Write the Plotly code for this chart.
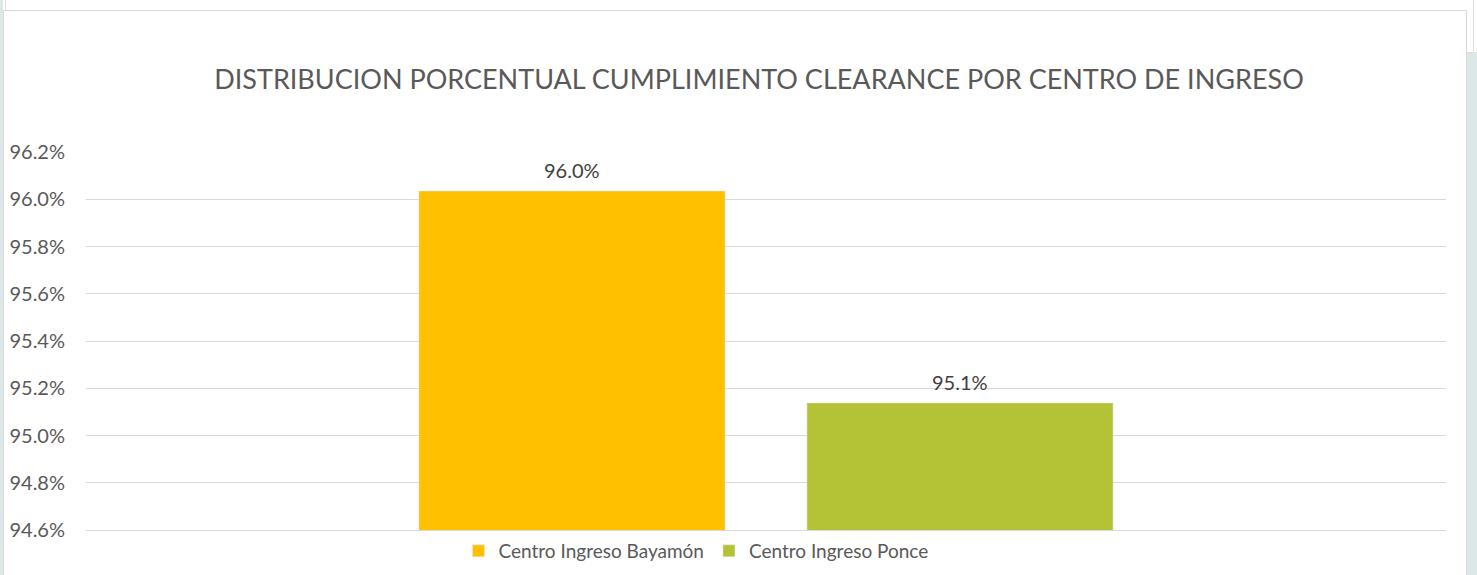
import plotly.graph_objects as go

title = "DISTRIBUCION PORCENTUAL CUMPLIMIENTO CLEARANCE POR CENTRO DE INGRESO"
series_names = ["Centro Ingreso Bayamón", "Centro Ingreso Ponce"]
series_values = [0.96035, 0.95138]
series_labels = ["96.0%", "95.1%"]
series_colors = ["#FFC000", "#B4C236"]
category = [""]
tick_vals = [0.946, 0.948, 0.950, 0.952, 0.954, 0.956, 0.958, 0.960, 0.962]
tick_text = ["94.6%", "94.8%", "95.0%", "95.2%", "95.4%", "95.6%", "95.8%", "96.0%", "96.2%"]

W, H = 1477, 575
L, R, T, B = 86, 1446, 152, 530

fig = go.Figure()
for name, v, col in zip(series_names, series_values, series_colors):
    fig.add_trace(go.Bar(
        x=category, y=[v], name=name, marker_color=col, hoverinfo="skip",
    ))

def px(x):
    return (x - L) / (R - L)

def py(y):
    return (B - y) / (B - T)

# bar value labels, positioned at each bar's data value
slot = 0.5 * (1 - 0.4294)
offsets = [-slot / 2, slot / 2]
annotations = []
for v, lab, off in zip(series_values, series_labels, offsets):
    annotations.append(dict(
        x=off, y=v, xref="x", yref="y", text=lab, showarrow=False,
        yanchor="middle", xanchor="center", yshift=21,
        font=dict(size=20, color="#404040", family="Lato"),
    ))

shapes = []
# left bluish strip
shapes.append(dict(type="rect", xref="paper", yref="paper", x0=px(0), x1=px(3), y0=py(580), y1=py(-5),
                   fillcolor="#DCE7E8", line=dict(width=0), layer="below"))
# right bluish area
shapes.append(dict(type="rect", xref="paper", yref="paper", x0=px(1467), x1=px(1480), y0=py(580), y1=py(52),
                   fillcolor="#DCE7E8", line=dict(width=0), layer="below"))
# box behind the card
shapes.append(dict(type="rect", xref="paper", yref="paper", x0=px(5.5), x1=px(1473.5), y0=py(52.5), y1=py(-5),
                   fillcolor="white", line=dict(width=1, color="#DDDDDD"), layer="below"))
# card
shapes.append(dict(type="rect", xref="paper", yref="paper", x0=px(3.5), x1=px(1466.5), y0=py(590), y1=py(10.5),
                   fillcolor="white", line=dict(width=1, color="#D9D9D9"), layer="below"))

fig.update_layout(
    width=W, height=H,
    margin=dict(l=L, r=W - R, t=T, b=H - B, autoexpand=False),
    paper_bgcolor="white", plot_bgcolor="rgba(0,0,0,0)",
    title=dict(text=title, x=759 / W, xanchor="center", y=1 - 80 / H, yanchor="middle",
               font=dict(size=27, color="#595959", family="Lato")),
    barmode="group", bargap=0.4294, bargroupgap=0.211,
    showlegend=True,
    legend=dict(orientation="h", x=px(696), xanchor="center",
                yref="container", y=1 - 551 / H, yanchor="middle",
                font=dict(size=19, color="#595959", family="Lato"), itemwidth=30,
                bgcolor="rgba(0,0,0,0)"),
    xaxis=dict(range=[-0.5, 0.5], showticklabels=False, showgrid=False, showline=True,
               linecolor="#D9D9D9", linewidth=1, zeroline=False, fixedrange=True),
    yaxis=dict(range=[0.946, 0.962], tickvals=tick_vals, ticktext=tick_text,
               showgrid=True, gridcolor="#D9D9D9", gridwidth=1, zeroline=False,
               tickfont=dict(size=20, color="#595959", family="Lato"), ticks="",
               ticklabelstandoff=20, fixedrange=True),
    shapes=shapes,
    annotations=annotations,
)

fig.write_html("out.html", config={"displayModeBar": False},
               post_script="document.body.style.margin='0';document.body.style.overflow='hidden';")
